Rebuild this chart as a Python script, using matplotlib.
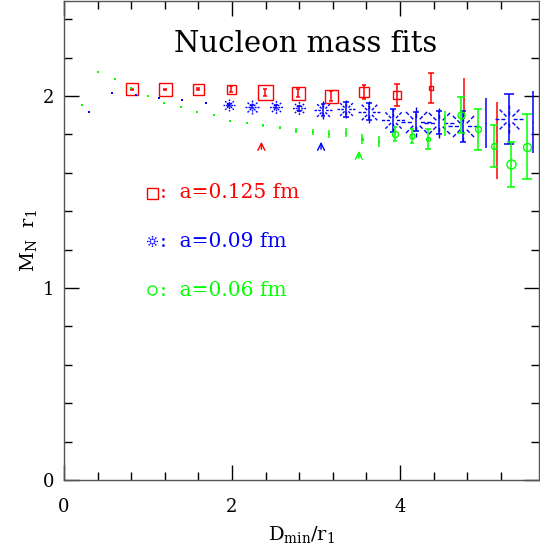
import numpy as np
import matplotlib
matplotlib.use("Agg")
import matplotlib.pyplot as plt
from matplotlib.path import Path

plt.rcParams["font.family"] = "DejaVu Serif"
plt.rcParams["mathtext.fontset"] = "dejavuserif"

# ---------------------------------------------------------------
# data (D_min/r1 , M_N r1 , error, symbol size px)
# ---------------------------------------------------------------
red_x = [0.806, 1.200, 1.597, 1.993, 2.388, 2.784, 3.179, 3.575, 3.970, 4.366, 4.761, 5.157]
red_y = [2.036, 2.036, 2.036, 2.035, 2.019, 2.014, 2.000, 2.020, 2.005, 2.040, 1.985, 1.770]
red_e = [0.003, 0.003, 0.004, 0.015, 0.020, 0.021, 0.024, 0.037, 0.056, 0.078, 0.107, 0.200]
red_q = [12, 13, 11, 9, 15, 13, 13, 10, 8, 5, 0, 0]

blue_x = [0.298, 0.576, 0.854, 1.132, 1.410, 1.688, 1.966, 2.244, 2.522, 2.800,
          3.078, 3.356, 3.634, 3.912, 4.190, 4.468, 4.746, 5.024, 5.302, 5.580]
blue_y = [1.915, 2.016, 2.005, 1.990, 1.980, 1.964, 1.953, 1.944, 1.944, 1.936,
          1.927, 1.930, 1.918, 1.875, 1.866, 1.862, 1.843, 1.861, 1.880, 1.864]
blue_e = [0.003, 0.003, 0.003, 0.003, 0.003, 0.003, 0.006, 0.008, 0.008, 0.012,
          0.030, 0.040, 0.045, 0.060, 0.050, 0.060, 0.080, 0.130, 0.130, 0.163]
blue_q = [2, 2, 2, 2, 2, 2, 12, 14, 13, 13, 18, 18, 22, 23, 30, 30, 30, 0, 28, 0]

green_x = [0.210, 0.407, 0.603, 0.800, 0.996, 1.193, 1.389, 1.586, 1.782, 1.979,
           2.175, 2.372, 2.568, 2.765, 2.961, 3.158, 3.354, 3.551, 3.747, 3.944,
           4.140, 4.337, 4.533, 4.730, 4.926, 5.123, 5.319, 5.516]
green_y = [1.951, 2.125, 2.089, 2.040, 1.999, 1.962, 1.945, 1.915, 1.901, 1.872,
           1.861, 1.847, 1.835, 1.819, 1.814, 1.802, 1.810, 1.775, 1.762, 1.802,
           1.792, 1.776, 1.857, 1.901, 1.826, 1.740, 1.644, 1.736]
green_e = [0.002, 0.002, 0.002, 0.002, 0.002, 0.002, 0.003, 0.003, 0.004, 0.004,
           0.006, 0.006, 0.008, 0.013, 0.015, 0.019, 0.023, 0.026, 0.030, 0.036,
           0.035, 0.052, 0.067, 0.094, 0.108, 0.110, 0.117, 0.170]
green_q = [2, 2, 2, 2, 2, 2, 2, 2, 2, 2,
           2, 2, 2, 2, 2, 2, 2, 3, 2, 6,
           5, 4, 0, 7, 6, 6, 9, 8]

# arrows marking the chosen fit for each spacing
arrow_x = [2.35, 3.06, 3.51]
arrow_y = [1.776, 1.776, 1.729]

labels = ["a=0.125 fm", "a=0.09 fm", "a=0.06 fm"]
RED, BLUE, GREEN = "#ff0000", "#0000ff", "#00ff00"


# burst symbol: 8 radial dashed strokes
def burst_path():
    verts, codes = [], []
    for ang in np.arange(8) * np.pi / 4:
        c, s = np.cos(ang), np.sin(ang)
        for r0, r1 in [(0.3, 0.58), (0.72, 1.0)]:
            verts += [(r0 * c, r0 * s), (r1 * c, r1 * s)]
            codes += [Path.MOVETO, Path.LINETO]
    return Path(verts, codes)


BURST = burst_path()
PX = 0.72  # points per pixel at dpi 100

fig = plt.figure(figsize=(5.4, 5.54), dpi=100)
ax = fig.add_axes([64 / 540, 74 / 554, 475 / 540, 479 / 554])


def draw_series(xs, ys, es, qs, color, marker):
    for x, y, e, q in zip(xs, ys, es, qs):
        cs = min(1.2 + 16 * e, 5.5)
        if q <= 3:
            ax.errorbar([x], [y], yerr=[e], fmt="s", ms=max(q, 1) * PX, mfc=color, mec=color,
                        mew=0, ecolor=color, elinewidth=1.1, capsize=cs, capthick=1.1)
        else:
            ax.errorbar([x], [y], yerr=[e], fmt="none", ecolor=color, elinewidth=1.1,
                        capsize=cs, capthick=1.1)
            ax.plot([x], [y], marker=marker, ms=q * PX, mfc="none", mec=color, mew=1.0,
                    linestyle="none")


draw_series(red_x, red_y, red_e, red_q, RED, "s")
draw_series(blue_x, blue_y, blue_e, blue_q, BLUE, BURST)
draw_series(green_x, green_y, green_e, green_q, GREEN, "o")

for x, y, c in zip(arrow_x, arrow_y, [RED, BLUE, GREEN]):
    ax.annotate("", xy=(x, y), xytext=(x, y - 0.068),
                arrowprops=dict(arrowstyle="->,head_length=0.5,head_width=0.25", color=c, lw=1.0))

# legend written inside the plot
leg_y = [0.600, 0.498, 0.396]
for lab, yy, c, m, sz in zip(labels, leg_y, [RED, BLUE, GREEN], ["s", BURST, "o"], [11, 11, 9]):
    ax.plot([0.186], [yy], marker=m, ms=sz * PX, mfc="none", mec=c, mew=1.0,
            transform=ax.transAxes, linestyle="none", clip_on=False)
    ax.text(0.203, yy, ":  " + lab, color=c, fontsize=14.5, va="center", ha="left",
            transform=ax.transAxes)

ax.text(0.509, 0.91, "Nucleon mass fits", fontsize=21, ha="center", va="center",
        transform=ax.transAxes)

ax.set_xlim(0, 5.655)
ax.set_ylim(0, 2.495)
ax.set_xticks([0, 2, 4])
ax.set_xticks(np.arange(0.4, 5.6, 0.4), minor=True)
ax.set_yticks([0, 1, 2])
ax.set_yticks(np.arange(0.2, 2.5, 0.2), minor=True)
ax.tick_params(which="both", direction="in", top=True, right=True, width=1.0, labelsize=13)
ax.tick_params(which="major", length=11)
ax.tick_params(which="minor", length=5.5)
ax.tick_params(axis="x", pad=13)
ax.tick_params(axis="y", pad=7)
for sp in ax.spines.values():
    sp.set_linewidth(1.0)
    sp.set_color("#555555")

ax.set_xlabel(r"$\mathrm{D_{min}/r_1}$", fontsize=14, labelpad=6)
ax.set_ylabel(r"$\mathrm{M_N\ \ r_1}$", fontsize=14, labelpad=3)

fig.savefig("out.png", dpi=100)
